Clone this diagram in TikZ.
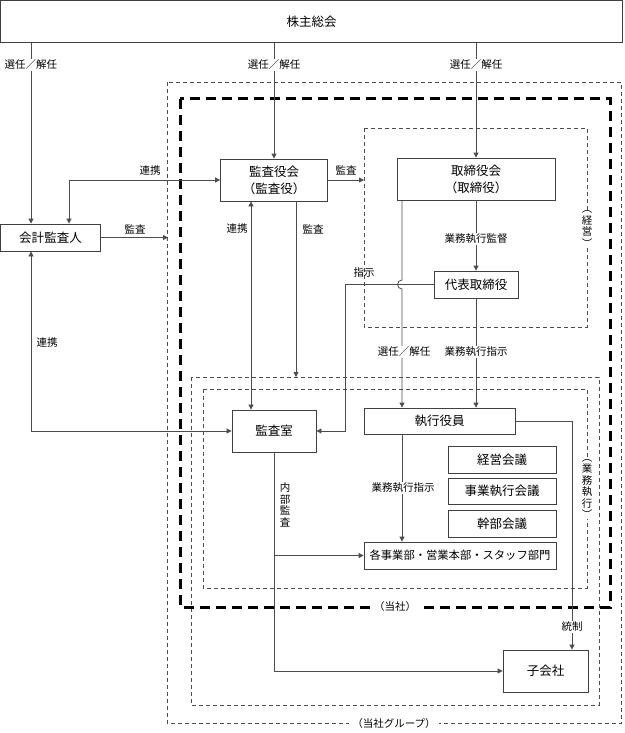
\documentclass[tikz,border=0pt]{standalone}
\usepackage{fontspec}
\setmainfont{Noto Sans CJK JP}
\usetikzlibrary{arrows.meta,calc}
\tikzset{
  box/.style={draw=black!75, line width=0.8pt, inner sep=0pt, align=center, font=\fontsize{12.5}{17}\selectfont},
  lbl/.style={font=\fontsize{10.5}{12}\selectfont, inner sep=1pt},
  wlbl/.style={lbl, fill=white},
  vlbl/.style={fill=white, inner sep=0.5pt, align=center, font=\fontsize{10.5}{11.5}\selectfont},
  arr/.style={draw=black!70, line width=0.8pt, -{Triangle[length=5pt,width=5pt]}},
  darr/.style={draw=black!70, line width=0.8pt, {Triangle[length=5pt,width=5pt]}-{Triangle[length=5pt,width=5pt]}},
  tdash/.style={draw=black!70, line width=0.7pt, dash pattern=on 4pt off 3pt},
  bdash/.style={draw=black, line width=3pt, dash pattern=on 10pt off 6pt},
}
\begin{document}
\begin{tikzpicture}[x=1pt,y=-1pt]
\useasboundingbox (0,0) rectangle (624,733);
% group frames
\draw[tdash] (167.5,82.5) rectangle (621,723.5);
\draw[tdash] (364,128) rectangle (587,327);
\draw[tdash] (191,377) rectangle (599,705);
\draw[tdash] (203,389) rectangle (587,588);
\draw[bdash] (180,99) rectangle (610,607);

% boxes
\node[box, minimum width=622pt, minimum height=42pt] (kabu) at (311.5,21.5) {株主総会};
\node[box, minimum width=100pt, minimum height=27pt] (kaikei) at (50.5,237.5) {会計監査人};
\node[box, minimum width=107pt, minimum height=42pt] (kansayaku) at (274,180) {監査役会\\（監査役）};
\node[box, minimum width=158pt, minimum height=42pt] (tori) at (476,179) {取締役会\\（取締役）};
\node[box, minimum width=84pt, minimum height=27pt] (daihyo) at (476,284.5) {代表取締役};
\node[box, minimum width=84pt, minimum height=42pt] (kansashitsu) at (274,431) {監査室};
\node[box, minimum width=151pt, minimum height=26pt] (shikkou) at (439.5,421) {執行役員};
\node[box, minimum width=108pt, minimum height=27pt] (keiei) at (502,459.5) {経営会議};
\node[box, minimum width=108pt, minimum height=26pt] (jigyo) at (502,491) {事業執行会議};
\node[box, minimum width=108pt, minimum height=27pt] (kanbu) at (502,523.5) {幹部会議};
\node[box, minimum width=192pt, minimum height=27pt, font=\fontsize{11.3}{13}\selectfont] (kaku) at (460,555.5) {各事業部・営業本部・スタッフ部門};
\node[box, minimum width=85pt, minimum height=42pt] (kogaisha) at (545.5,671) {子会社};

% helper coordinates
\coordinate (xL) at (31,0);
\coordinate (xK) at (69,0);
\coordinate (gW) at (168,0);
\coordinate (kW) at (364,0);
\coordinate (xR) at (251,0);
\coordinate (xA) at (296,0);
\coordinate (gTop) at (0,377);
\coordinate (xH) at (402,0);
\coordinate (xS) at (345,0);
\coordinate (xT) at (572,0);

% connectors
\draw[arr] (kabu.south -| xL) -- (kaikei.north -| xL);
\draw[arr] (kabu.south -| kansayaku.north) -- (kansayaku.north);
\draw[arr] (kabu.south -| tori.north) -- (tori.north);
\draw[darr] (kaikei.north -| xK) |- (kansayaku.west);
\draw[arr] (kaikei.east) -- (kaikei.east -| gW);
\draw[arr] (kansayaku.east) -- (kansayaku.east -| kW);
\draw[darr] (kansayaku.south -| xR) -- (kansashitsu.north -| xR);
\draw[arr] (kansayaku.south -| xA) -- (xA |- gTop);
\draw[arr] (tori.south) -- (daihyo.north);
\draw[arr] (tori.south -| xH) -- ($(xH |- daihyo.west)+(0,-4.5)$) arc[start angle=90, end angle=270, radius=4.5pt] -- (shikkou.north -| xH);
\draw[arr] (daihyo.south) -- (shikkou.north -| daihyo.south);
\draw[arr] (daihyo.west) -- (daihyo.west -| xS) -- (xS |- kansashitsu.east) -- (kansashitsu.east);
\draw[darr] (kaikei.south -| xL) |- (kansashitsu.west);
\draw[arr] (kansashitsu.south) |- (kogaisha.west);
\draw[arr] (kansashitsu.south |- kaku.west) -- (kaku.west);
\draw[arr] (shikkou.south -| xH) -- (kaku.north -| xH);
\draw[arr] (shikkou.east) -- (shikkou.east -| xT) -- (xT |- kogaisha.north);

% labels
\node[wlbl] (l1) at (31,65) {選任／解任};
\node[wlbl] (l2) at (274,65) {選任／解任};
\node[wlbl] (l3) at (476,65) {選任／解任};
\node[lbl] (l4) at (150,171) {連携};
\node[lbl] (l5) at (135,229) {監査};
\node[lbl] (l6) at (346,170) {監査};
\node[lbl] (l7) at (237,229) {連携};
\node[lbl] (l8) at (313,229) {監査};
\node[wlbl] (l9) at (476,239) {業務執行監督};
\node[lbl] (l10) at (364,273) {指示};
\node[wlbl] (l11) at (404,352) {選任／解任};
\node[wlbl] (l12) at (476,352) {業務執行指示};
\node[lbl] (l13) at (47,343) {連携};
\node[lbl, align=center, font=\fontsize{10.5}{11.5}\selectfont] (l14) at (285,505) {内\\部\\監\\査};
\node[wlbl] (l15) at (403,488) {業務執行指示};
\node[wlbl] (l16) at (572,627) {統制};
\node[vlbl] (l17) at (587,229) {︵\\経\\営\\︶};
\node[vlbl] (l18) at (587,489) {︵\\業\\務\\執\\行\\︶};
\node[wlbl, inner xsep=3pt] (l19) at (395,607) {（当社）};
\node[wlbl, inner xsep=3pt] (l20) at (394,723.5) {（当社グループ）};
\end{tikzpicture}
\end{document}
